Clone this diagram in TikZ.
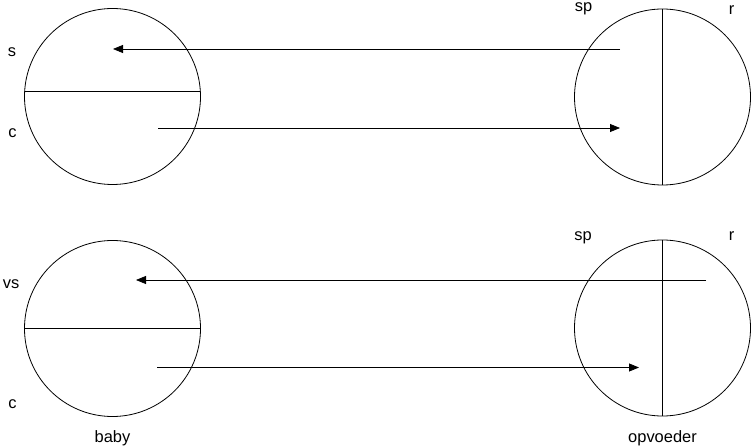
\documentclass[tikz,border=0pt]{standalone}
\usepackage{fontspec}
\setmainfont{Liberation Sans}
\usetikzlibrary{arrows.meta}
\begin{document}
\begin{tikzpicture}[x=1bp,y=-1bp,
  ball/.style={draw, circle, minimum size=176bp, inner sep=0pt, outer sep=0pt, line width=0.8bp},
  divider/.style={line width=0.8bp},
  flow/.style={line width=0.8bp, -{Triangle[length=10bp,width=8bp]}},
  lbl/.style={anchor=base, inner sep=0pt, font=\fontsize{16.5}{20}\selectfont}]
\useasboundingbox (0,0) rectangle (751,447);
% circles
\node[ball] (babyTop) at (112.5,96.5) {};
\node[ball] (opvTop) at (662.5,97) {};
\node[ball] (babyBot) at (112.5,328.5) {};
\node[ball] (opvBot) at (662.5,328) {};
% dividers
\draw[divider] ([shift={(-87.86,-5)}]babyTop.center) -- ([shift={(87.86,-5)}]babyTop.center);
\draw[divider] (opvTop.north) -- (opvTop.south);
\draw[divider] (babyBot.west) -- (babyBot.east);
\draw[divider] (opvBot.north) -- (opvBot.south);
% arrow end points
\coordinate (t1s) at (620,49);
\coordinate (t1e) at (113,49);
\coordinate (t2s) at (158,128);
\coordinate (t2e) at (620,128);
\coordinate (b1s) at (706,280);
\coordinate (b1e) at (136,280);
\coordinate (b2s) at (157,367.5);
\coordinate (b2e) at (639,367.5);
\draw[flow] (t1s) -- (t1e);
\draw[flow] (t2s) -- (t2e);
\draw[flow] (b1s) -- (b1e);
\draw[flow] (b2s) -- (b2e);
% labels
\node[lbl] (ls) at (12,57) {s};
\node[lbl] (lc1) at (12.5,138) {c};
\node[lbl] (lvs) at (11,289) {vs};
\node[lbl] (lc2) at (12.5,408) {c};
\node[lbl] (lbaby) at (112.5,442) {baby};
\node[lbl] (lopv) at (662.5,442) {opvoeder};
\node[lbl] (lsp1) at (583.5,12) {sp};
\node[lbl] (lr1) at (731.5,15) {r};
\node[lbl] (lsp2) at (583,241) {sp};
\node[lbl] (lr2) at (731.5,241) {r};
\end{tikzpicture}
\end{document}
